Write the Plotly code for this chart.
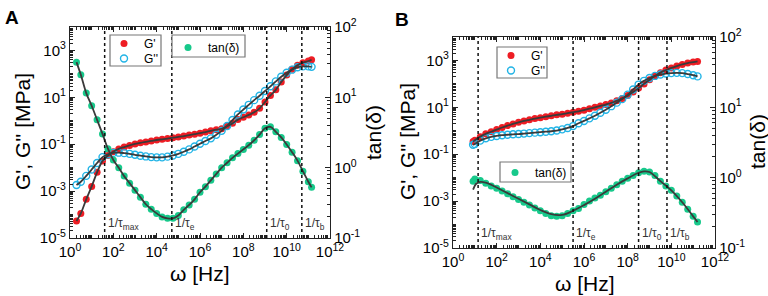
import numpy as np
import plotly.graph_objects as go

# ---------------- data (log10 values) ----------------
# Panel A
log_w_A = [0.3, 0.5, 0.75, 1.0, 1.25, 1.5, 1.75, 2.0, 2.25, 2.5, 2.75, 3.0, 3.25, 3.5, 3.75,
           4.0, 4.25, 4.5, 4.75, 5.0, 5.25, 5.5, 5.75, 6.0, 6.25, 6.5, 6.75, 7.0, 7.25, 7.5,
           7.75, 8.0, 8.25, 8.5, 8.75, 9.0, 9.25, 9.5, 9.75, 10.0, 10.25, 10.5, 10.75, 11.0, 11.15]
log_Gp_A = [-4.27, -3.95, -3.35, -2.8, -2.2, -1.72, -1.48, -1.32, -1.2, -1.12, -1.05, -0.99, -0.94,
            -0.9, -0.86, -0.82, -0.79, -0.76, -0.72, -0.69, -0.65, -0.61, -0.57, -0.53, -0.48,
            -0.43, -0.38, -0.34, -0.23, -0.11, 0.05, 0.15, 0.25, 0.36, 0.53, 0.8, 1.08, 1.32,
            1.65, 1.95, 2.2, 2.37, 2.48, 2.55, 2.6]
log_Gpp_A = [-2.74, -2.6, -2.35, -2.08, -1.8, -1.55, -1.43, -1.37, -1.36, -1.38, -1.41, -1.45,
             -1.49, -1.52, -1.55, -1.56, -1.56, -1.53, -1.48, -1.41, -1.32, -1.22, -1.1, -0.98,
             -0.86, -0.75, -0.6, -0.43, -0.22, 0.03, 0.27, 0.48, 0.68, 0.88, 1.07, 1.27, 1.47,
             1.68, 1.88, 2.05, 2.18, 2.28, 2.32, 2.32, 2.3]
log_tan_A = [1.5, 1.32, 1.06, 0.88, 0.68, 0.48, 0.27, 0.11, 0.0, -0.12, -0.22, -0.32, -0.42,
             -0.52, -0.59, -0.65, -0.7, -0.72, -0.72, -0.68, -0.6, -0.53, -0.45, -0.35, -0.27,
             -0.18, -0.09, 0.0, 0.07, 0.14, 0.2, 0.26, 0.32, 0.39, 0.47, 0.56, 0.58, 0.51, 0.43,
             0.33, 0.22, 0.1, -0.05, -0.2, -0.28]
log_tau_A = [1.6, 4.7, 9.08, 10.7]

# Panel B
log_w_B = [0.92, 1.0, 1.25, 1.5, 1.75, 2.0, 2.25, 2.5, 2.75, 3.0, 3.25, 3.5, 3.75, 4.0, 4.25,
           4.5, 4.75, 5.0, 5.25, 5.5, 5.75, 6.0, 6.25, 6.5, 6.75, 7.0, 7.25, 7.5, 7.75, 8.0,
           8.25, 8.5, 8.75, 9.0, 9.25, 9.5, 9.75, 10.0, 10.25, 10.5, 10.75, 11.0, 11.2]
log_Gp_B = [-0.46, -0.4, -0.25, -0.13, -0.04, 0.05, 0.14, 0.22, 0.29, 0.36, 0.42, 0.47, 0.52,
            0.56, 0.6, 0.64, 0.68, 0.71, 0.75, 0.79, 0.83, 0.88, 0.94, 1.0, 1.06, 1.12, 1.19,
            1.28, 1.38, 1.5, 1.65, 1.82, 2.0, 2.18, 2.34, 2.48, 2.59, 2.68, 2.76, 2.83, 2.89,
            2.93, 2.96]
log_Gpp_B = [-0.6, -0.56, -0.42, -0.32, -0.26, -0.22, -0.19, -0.17, -0.15, -0.14, -0.12, -0.1,
             -0.08, -0.06, -0.04, -0.02, 0.01, 0.06, 0.12, 0.2, 0.32, 0.42, 0.53, 0.64, 0.77,
             0.9, 1.05, 1.2, 1.35, 1.54, 1.76, 1.97, 2.13, 2.25, 2.34, 2.4, 2.44, 2.46, 2.47,
             2.46, 2.42, 2.37, 2.32]
log_tan_B = [-0.05, -0.02, -0.04, -0.08, -0.12, -0.15, -0.19, -0.23, -0.27, -0.31, -0.35, -0.39,
             -0.43, -0.47, -0.51, -0.54, -0.55, -0.54, -0.51, -0.47, -0.44, -0.38, -0.33, -0.29,
             -0.25, -0.2, -0.15, -0.1, -0.05, -0.01, 0.03, 0.07, 0.09, 0.08, 0.03, -0.05, -0.12,
             -0.18, -0.26, -0.35, -0.45, -0.55, -0.63]
log_w_fit_tanB = [0.92, 1.05, 1.25, 1.5, 1.75, 2.0, 2.5, 3.0, 3.5, 4.0, 4.5, 5.0, 5.5, 6.0, 6.5,
                  7.0, 7.5, 8.0, 8.5, 8.75, 9.0, 9.5, 10.0, 10.5, 11.0, 11.2]
log_fit_tanB = [-0.17, -0.09, -0.06, -0.07, -0.1, -0.14, -0.22, -0.3, -0.38, -0.46, -0.52, -0.53,
                -0.47, -0.39, -0.3, -0.2, -0.1, -0.01, 0.07, 0.09, 0.08, -0.05, -0.18, -0.35,
                -0.55, -0.63]
log_tau_B = [1.15, 5.5, 8.5, 9.8]

tau_labels = ["1/τ<sub>max</sub>", "1/τ<sub>e</sub>", "1/τ<sub>0</sub>", "1/τ<sub>b</sub>"]
x_title = "ω [Hz]"
y_left_title = "G', G'' [MPa]"
y_right_title = "tan(δ)"

# ---------------- styles ----------------
RED = "#ee1d24"
CYAN = "#22b4e6"
GREEN = "#17c98b"
FIT = "#3a3a3a"
FONT = "Liberation Sans, Arial, sans-serif"
W, H = 768, 296

def p10(a):
    return np.power(10.0, np.array(a, dtype=float))

fig = go.Figure()

def add_panel(xa, ya, ya2, lw, gp, gpp, tan, leg_gp, leg_gpp, leg_tan, fit_w=None, fit_tan=None):
    fig.add_trace(go.Scatter(x=p10(lw), y=p10(gp), mode="markers", name="G'",
                             marker=dict(color=RED, size=7), xaxis=xa, yaxis=ya, legend=leg_gp))
    fig.add_trace(go.Scatter(x=p10(lw), y=p10(gpp), mode="markers", name="G''",
                             marker=dict(color=CYAN, size=7, symbol="circle-open",
                                         line=dict(color=CYAN, width=1.4)),
                             xaxis=xa, yaxis=ya, legend=leg_gpp))
    fig.add_trace(go.Scatter(x=p10(lw), y=p10(tan), mode="markers", name="tan(δ)",
                             marker=dict(color=GREEN, size=7), xaxis=xa, yaxis=ya2, legend=leg_tan))
    for arr, yy in ((gp, ya), (gpp, ya)):
        fig.add_trace(go.Scatter(x=p10(lw), y=p10(arr), mode="lines",
                                 line=dict(color=FIT, width=1.8, shape="spline"),
                                 showlegend=False, xaxis=xa, yaxis=yy, hoverinfo="skip"))
    if fit_w is None:
        fw, ft = lw, tan
    else:
        fw, ft = fit_w, fit_tan
    fig.add_trace(go.Scatter(x=p10(fw), y=p10(ft), mode="lines",
                             line=dict(color=FIT, width=1.8, shape="spline"),
                             showlegend=False, xaxis=xa, yaxis=ya2, hoverinfo="skip"))

add_panel("x", "y", "y2", log_w_A, log_Gp_A, log_Gpp_A, log_tan_A, "legend", "legend2", "legend3")
add_panel("x2", "y3", "y4", log_w_B, log_Gp_B, log_Gpp_B, log_tan_B, "legend4", "legend5", "legend6",
          log_w_fit_tanB, log_fit_tanB)

def sup(e):
    return "10<sup>%d</sup>" % e

x_major = list(range(0, 13, 2))
x_minor = [m * 10.0 ** k for k in range(0, 12) for m in range(1, 10)] + [1e12]
yl_major = list(range(-5, 4, 2))
yl_minor = [m * 10.0 ** k for k in range(-5, 4) for m in range(1, 10)] + [1e4]
yr_major = [-1, 0, 1, 2]
yr_minor = [m * 10.0 ** k for k in range(-1, 2) for m in range(2, 10)]

tickfont = dict(family=FONT, size=15, color="black")
titlefont = dict(family=FONT, size=21, color="black")

def common(vals, texts, minor_vals):
    return dict(type="log", tickmode="array", tickvals=vals, ticktext=texts,
                ticks="inside", ticklen=5, tickwidth=1, tickcolor="#222",
                minor=dict(tickmode="array", tickvals=minor_vals, ticks="inside", ticklen=2.5,
                           tickcolor="#222"),
                showline=True, linecolor="#222", linewidth=1.3, showgrid=False, zeroline=False,
                tickfont=tickfont, automargin=False)

def xaxis(domain, anchor):
    d = common([10.0 ** e for e in x_major], [sup(e) for e in x_major], x_minor)
    d.update(domain=domain, anchor=anchor, range=[0, 12], mirror="ticks")
    return d

def yleft(domain, anchor):
    d = common([10.0 ** e for e in yl_major], [sup(e) for e in yl_major], yl_minor)
    d.update(domain=domain, anchor=anchor, range=[-5, 4], mirror=False)
    return d

def yright(over, anchor):
    d = common([10.0 ** e for e in yr_major], [sup(e) for e in yr_major], yr_minor)
    d.update(overlaying=over, anchor=anchor, side="right", range=[-1, 2])
    return d

dA_x = [70 / W, 330 / W]
dA_y = [1 - 238 / H, 1 - 27 / H]
dB_x = [453 / W, 715 / W]
dB_y = [1 - 248 / H, 1 - 37 / H]

shapes = []
annotations = []
for xa, taus, ydom in (("x", log_tau_A, "y domain"), ("x2", log_tau_B, "y3 domain")):
    for v, lab in zip(taus, tau_labels):
        shapes.append(dict(type="line", xref=xa, yref=ydom, x0=10.0 ** v, x1=10.0 ** v, y0=0, y1=1,
                           line=dict(color="#111", width=1.5, dash="dot"), layer="above"))
        annotations.append(dict(xref=xa, yref=ydom, x=v, y=0.065, text=lab, showarrow=False,
                                xanchor="left", yanchor="middle", xshift=1,
                                font=dict(family=FONT, size=12, color="#333")))

# legend frames (pixel boxes)
for (x0, y0, x1, y1) in ((110, 35, 161, 66), (172, 35, 245, 57), (497, 47, 547, 78), (500, 162, 571, 182)):
    shapes.append(dict(type="rect", xref="paper", yref="paper", x0=x0 / W, x1=x1 / W,
                       y0=1 - y1 / H, y1=1 - y0 / H, fillcolor="white",
                       line=dict(color="#777", width=1.2), layer="above"))

# axis titles (placed as in the reference)
for (xc, yc, txt, ang) in ((200, 273, x_title, 0), (22, 132, y_left_title, -90), (373, 133, y_right_title, -90),
                           (585, 283, x_title, 0), (407, 142, y_left_title, -90), (757, 142, y_right_title, -90)):
    annotations.append(dict(xref="paper", yref="paper", x=xc / W, y=1 - yc / H, text=txt,
                            textangle=ang, showarrow=False, xanchor="center", yanchor="middle",
                            font=titlefont))

annotations.append(dict(xref="paper", yref="paper", x=3 / W, y=1 - 5 / H, text="<b>A</b>",
                        showarrow=False, xanchor="left", yanchor="top",
                        font=dict(family=FONT, size=19, color="black")))
annotations.append(dict(xref="paper", yref="paper", x=393 / W, y=1 - 7 / H, text="<b>B</b>",
                        showarrow=False, xanchor="left", yanchor="top",
                        font=dict(family=FONT, size=19, color="black")))

def legend(mx, my):
    # (mx, my): pixel centre of the legend symbol
    return dict(x=(mx - 20) / W, y=1 - (my - 14) / H, xanchor="left", yanchor="top",
                bgcolor="rgba(0,0,0,0)", borderwidth=0,
                font=dict(family=FONT, size=12, color="black"), tracegroupgap=0,
                itemwidth=30)

fig.update_layout(
    width=W, height=H,
    margin=dict(l=0, r=0, t=0, b=0),
    paper_bgcolor="white", plot_bgcolor="white",
    font=dict(family=FONT, color="black"),
    xaxis=xaxis(dA_x, "y"), yaxis=yleft(dA_y, "x"), yaxis2=yright("y", "x"),
    xaxis2=xaxis(dB_x, "y3"), yaxis3=yleft(dB_y, "x2"), yaxis4=yright("y3", "x2"),
    legend=legend(124, 43), legend2=legend(124, 58), legend3=legend(188, 47),
    legend4=legend(511, 55), legend5=legend(511, 70), legend6=legend(515, 172),
    shapes=shapes, annotations=annotations,
    showlegend=True,
)

fig.write_html("out.html", config={"displayModeBar": False},
               post_script="document.body.style.margin='0';document.body.style.overflow='hidden';")
